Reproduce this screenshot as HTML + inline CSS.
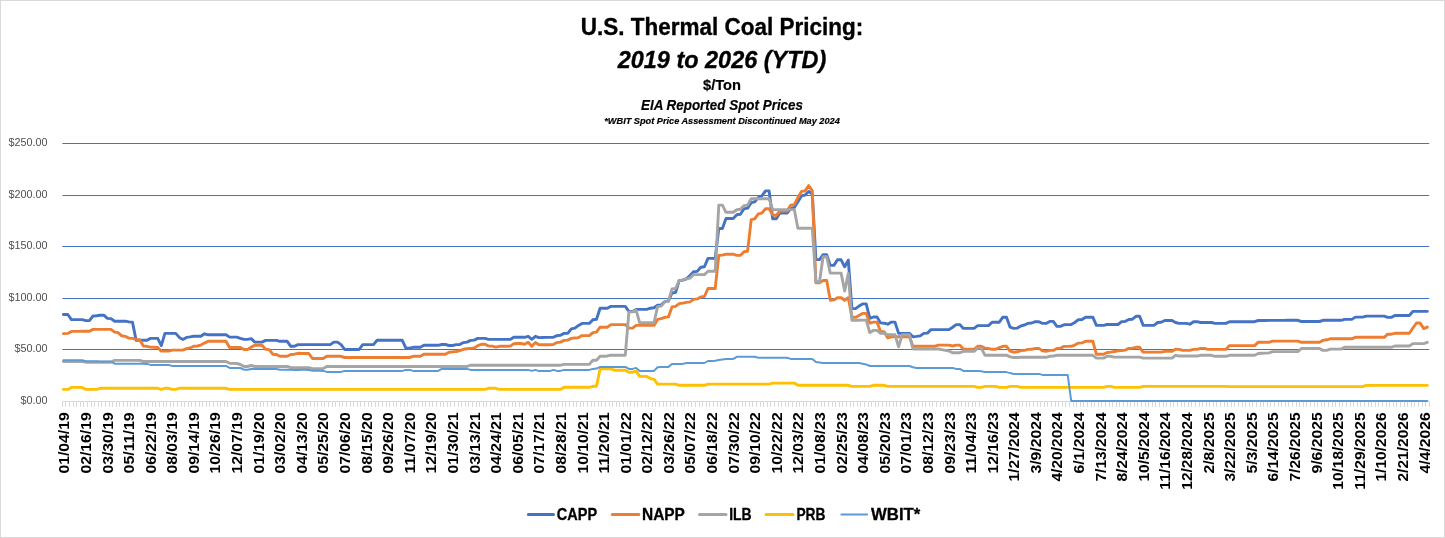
<!DOCTYPE html>
<html lang="en"><head><meta charset="utf-8"><title>U.S. Thermal Coal Pricing</title>
<style>html,body{margin:0;padding:0;background:#fff}svg{display:block}text{font-family:"Liberation Sans",sans-serif}.b{font-weight:700}.i{font-style:italic}</style></head><body>
<svg width="1445" height="538" viewBox="0 0 1445 538">
<rect x="0" y="0" width="1445" height="538" fill="#fff"/>
<rect x="0.5" y="0.5" width="1444" height="537" fill="none" stroke="#d9d9d9" stroke-width="1"/>
<text x="722" y="35.3" font-size="23.8" class="b" text-anchor="middle" textLength="282.5" lengthAdjust="spacingAndGlyphs" fill="#000" stroke="#000" stroke-width="0.35">U.S. Thermal Coal Pricing:</text>
<text x="722" y="68.1" font-size="23.8" class="b i" text-anchor="middle" textLength="208.5" lengthAdjust="spacingAndGlyphs" fill="#000" stroke="#000" stroke-width="0.35">2019 to 2026 (YTD)</text>
<text x="722" y="89.6" font-size="14.7" class="b" text-anchor="middle" textLength="38" lengthAdjust="spacingAndGlyphs" fill="#000" stroke="#000" stroke-width="0.2">$/Ton</text>
<text x="722" y="110.4" font-size="14.6" class="b i" text-anchor="middle" textLength="162" lengthAdjust="spacingAndGlyphs" fill="#000" stroke="#000" stroke-width="0.2">EIA Reported Spot Prices</text>
<text x="722" y="124.4" font-size="9.6" class="b i" text-anchor="middle" textLength="235.5" lengthAdjust="spacingAndGlyphs" fill="#000" stroke="#000" stroke-width="0.2">*WBIT Spot Price Assessment Discontinued May 2024</text>
<g stroke="#4472c4" stroke-width="1">
<line x1="62.4" y1="143.5" x2="1429.2" y2="143.5"/>
<line x1="62.4" y1="195.5" x2="1429.2" y2="195.5"/>
<line x1="62.4" y1="246.5" x2="1429.2" y2="246.5"/>
<line x1="62.4" y1="298.5" x2="1429.2" y2="298.5"/>
<line x1="62.4" y1="349.5" x2="1429.2" y2="349.5"/>
</g>
<g stroke="#d9d9d9" stroke-width="1">
<line x1="62.4" y1="401.5" x2="1429.2" y2="401.5"/>
<path d="M62.5 401.5v5.5M65.5 401.5v5.5M69.5 401.5v5.5M73.5 401.5v5.5M76.5 401.5v5.5M80.5 401.5v5.5M83.5 401.5v5.5M87.5 401.5v5.5M91.5 401.5v5.5M94.5 401.5v5.5M98.5 401.5v5.5M101.5 401.5v5.5M105.5 401.5v5.5M109.5 401.5v5.5M112.5 401.5v5.5M116.5 401.5v5.5M119.5 401.5v5.5M123.5 401.5v5.5M127.5 401.5v5.5M130.5 401.5v5.5M134.5 401.5v5.5M137.5 401.5v5.5M141.5 401.5v5.5M145.5 401.5v5.5M148.5 401.5v5.5M152.5 401.5v5.5M155.5 401.5v5.5M159.5 401.5v5.5M163.5 401.5v5.5M166.5 401.5v5.5M170.5 401.5v5.5M173.5 401.5v5.5M177.5 401.5v5.5M181.5 401.5v5.5M184.5 401.5v5.5M188.5 401.5v5.5M191.5 401.5v5.5M195.5 401.5v5.5M199.5 401.5v5.5M202.5 401.5v5.5M206.5 401.5v5.5M209.5 401.5v5.5M213.5 401.5v5.5M217.5 401.5v5.5M220.5 401.5v5.5M224.5 401.5v5.5M227.5 401.5v5.5M231.5 401.5v5.5M235.5 401.5v5.5M238.5 401.5v5.5M242.5 401.5v5.5M245.5 401.5v5.5M249.5 401.5v5.5M253.5 401.5v5.5M256.5 401.5v5.5M260.5 401.5v5.5M263.5 401.5v5.5M267.5 401.5v5.5M271.5 401.5v5.5M274.5 401.5v5.5M278.5 401.5v5.5M281.5 401.5v5.5M285.5 401.5v5.5M289.5 401.5v5.5M292.5 401.5v5.5M296.5 401.5v5.5M299.5 401.5v5.5M303.5 401.5v5.5M306.5 401.5v5.5M310.5 401.5v5.5M314.5 401.5v5.5M317.5 401.5v5.5M321.5 401.5v5.5M324.5 401.5v5.5M328.5 401.5v5.5M332.5 401.5v5.5M335.5 401.5v5.5M339.5 401.5v5.5M342.5 401.5v5.5M346.5 401.5v5.5M350.5 401.5v5.5M353.5 401.5v5.5M357.5 401.5v5.5M360.5 401.5v5.5M364.5 401.5v5.5M368.5 401.5v5.5M371.5 401.5v5.5M375.5 401.5v5.5M378.5 401.5v5.5M382.5 401.5v5.5M386.5 401.5v5.5M389.5 401.5v5.5M393.5 401.5v5.5M396.5 401.5v5.5M400.5 401.5v5.5M404.5 401.5v5.5M407.5 401.5v5.5M411.5 401.5v5.5M414.5 401.5v5.5M418.5 401.5v5.5M422.5 401.5v5.5M425.5 401.5v5.5M429.5 401.5v5.5M432.5 401.5v5.5M436.5 401.5v5.5M440.5 401.5v5.5M443.5 401.5v5.5M447.5 401.5v5.5M450.5 401.5v5.5M454.5 401.5v5.5M458.5 401.5v5.5M461.5 401.5v5.5M465.5 401.5v5.5M468.5 401.5v5.5M472.5 401.5v5.5M476.5 401.5v5.5M479.5 401.5v5.5M483.5 401.5v5.5M486.5 401.5v5.5M490.5 401.5v5.5M494.5 401.5v5.5M497.5 401.5v5.5M501.5 401.5v5.5M504.5 401.5v5.5M508.5 401.5v5.5M512.5 401.5v5.5M515.5 401.5v5.5M519.5 401.5v5.5M522.5 401.5v5.5M526.5 401.5v5.5M529.5 401.5v5.5M533.5 401.5v5.5M537.5 401.5v5.5M540.5 401.5v5.5M544.5 401.5v5.5M547.5 401.5v5.5M551.5 401.5v5.5M555.5 401.5v5.5M558.5 401.5v5.5M562.5 401.5v5.5M565.5 401.5v5.5M569.5 401.5v5.5M573.5 401.5v5.5M576.5 401.5v5.5M580.5 401.5v5.5M583.5 401.5v5.5M587.5 401.5v5.5M591.5 401.5v5.5M594.5 401.5v5.5M598.5 401.5v5.5M601.5 401.5v5.5M605.5 401.5v5.5M609.5 401.5v5.5M612.5 401.5v5.5M616.5 401.5v5.5M619.5 401.5v5.5M623.5 401.5v5.5M627.5 401.5v5.5M630.5 401.5v5.5M634.5 401.5v5.5M637.5 401.5v5.5M641.5 401.5v5.5M645.5 401.5v5.5M648.5 401.5v5.5M652.5 401.5v5.5M655.5 401.5v5.5M659.5 401.5v5.5M663.5 401.5v5.5M666.5 401.5v5.5M670.5 401.5v5.5M673.5 401.5v5.5M677.5 401.5v5.5M681.5 401.5v5.5M684.5 401.5v5.5M688.5 401.5v5.5M691.5 401.5v5.5M695.5 401.5v5.5M699.5 401.5v5.5M702.5 401.5v5.5M706.5 401.5v5.5M709.5 401.5v5.5M713.5 401.5v5.5M717.5 401.5v5.5M720.5 401.5v5.5M724.5 401.5v5.5M727.5 401.5v5.5M731.5 401.5v5.5M735.5 401.5v5.5M738.5 401.5v5.5M742.5 401.5v5.5M745.5 401.5v5.5M749.5 401.5v5.5M752.5 401.5v5.5M756.5 401.5v5.5M760.5 401.5v5.5M763.5 401.5v5.5M767.5 401.5v5.5M770.5 401.5v5.5M774.5 401.5v5.5M778.5 401.5v5.5M781.5 401.5v5.5M785.5 401.5v5.5M788.5 401.5v5.5M792.5 401.5v5.5M796.5 401.5v5.5M799.5 401.5v5.5M803.5 401.5v5.5M806.5 401.5v5.5M810.5 401.5v5.5M814.5 401.5v5.5M817.5 401.5v5.5M821.5 401.5v5.5M824.5 401.5v5.5M828.5 401.5v5.5M832.5 401.5v5.5M835.5 401.5v5.5M839.5 401.5v5.5M842.5 401.5v5.5M846.5 401.5v5.5M850.5 401.5v5.5M853.5 401.5v5.5M857.5 401.5v5.5M860.5 401.5v5.5M864.5 401.5v5.5M868.5 401.5v5.5M871.5 401.5v5.5M875.5 401.5v5.5M878.5 401.5v5.5M882.5 401.5v5.5M886.5 401.5v5.5M889.5 401.5v5.5M893.5 401.5v5.5M896.5 401.5v5.5M900.5 401.5v5.5M904.5 401.5v5.5M907.5 401.5v5.5M911.5 401.5v5.5M914.5 401.5v5.5M918.5 401.5v5.5M922.5 401.5v5.5M925.5 401.5v5.5M929.5 401.5v5.5M932.5 401.5v5.5M936.5 401.5v5.5M940.5 401.5v5.5M943.5 401.5v5.5M947.5 401.5v5.5M950.5 401.5v5.5M954.5 401.5v5.5M958.5 401.5v5.5M961.5 401.5v5.5M965.5 401.5v5.5M968.5 401.5v5.5M972.5 401.5v5.5M975.5 401.5v5.5M979.5 401.5v5.5M983.5 401.5v5.5M986.5 401.5v5.5M990.5 401.5v5.5M993.5 401.5v5.5M997.5 401.5v5.5M1001.5 401.5v5.5M1004.5 401.5v5.5M1008.5 401.5v5.5M1011.5 401.5v5.5M1015.5 401.5v5.5M1019.5 401.5v5.5M1022.5 401.5v5.5M1026.5 401.5v5.5M1029.5 401.5v5.5M1033.5 401.5v5.5M1037.5 401.5v5.5M1040.5 401.5v5.5M1044.5 401.5v5.5M1047.5 401.5v5.5M1051.5 401.5v5.5M1055.5 401.5v5.5M1058.5 401.5v5.5M1062.5 401.5v5.5M1065.5 401.5v5.5M1069.5 401.5v5.5M1073.5 401.5v5.5M1076.5 401.5v5.5M1080.5 401.5v5.5M1083.5 401.5v5.5M1087.5 401.5v5.5M1091.5 401.5v5.5M1094.5 401.5v5.5M1098.5 401.5v5.5M1101.5 401.5v5.5M1105.5 401.5v5.5M1109.5 401.5v5.5M1112.5 401.5v5.5M1116.5 401.5v5.5M1119.5 401.5v5.5M1123.5 401.5v5.5M1127.5 401.5v5.5M1130.5 401.5v5.5M1134.5 401.5v5.5M1137.5 401.5v5.5M1141.5 401.5v5.5M1145.5 401.5v5.5M1148.5 401.5v5.5M1152.5 401.5v5.5M1155.5 401.5v5.5M1159.5 401.5v5.5M1163.5 401.5v5.5M1166.5 401.5v5.5M1170.5 401.5v5.5M1173.5 401.5v5.5M1177.5 401.5v5.5M1181.5 401.5v5.5M1184.5 401.5v5.5M1188.5 401.5v5.5M1191.5 401.5v5.5M1195.5 401.5v5.5M1199.5 401.5v5.5M1202.5 401.5v5.5M1206.5 401.5v5.5M1209.5 401.5v5.5M1213.5 401.5v5.5M1216.5 401.5v5.5M1220.5 401.5v5.5M1224.5 401.5v5.5M1227.5 401.5v5.5M1231.5 401.5v5.5M1234.5 401.5v5.5M1238.5 401.5v5.5M1242.5 401.5v5.5M1245.5 401.5v5.5M1249.5 401.5v5.5M1252.5 401.5v5.5M1256.5 401.5v5.5M1260.5 401.5v5.5M1263.5 401.5v5.5M1267.5 401.5v5.5M1270.5 401.5v5.5M1274.5 401.5v5.5M1278.5 401.5v5.5M1281.5 401.5v5.5M1285.5 401.5v5.5M1288.5 401.5v5.5M1292.5 401.5v5.5M1296.5 401.5v5.5M1299.5 401.5v5.5M1303.5 401.5v5.5M1306.5 401.5v5.5M1310.5 401.5v5.5M1314.5 401.5v5.5M1317.5 401.5v5.5M1321.5 401.5v5.5M1324.5 401.5v5.5M1328.5 401.5v5.5M1332.5 401.5v5.5M1335.5 401.5v5.5M1339.5 401.5v5.5M1342.5 401.5v5.5M1346.5 401.5v5.5M1350.5 401.5v5.5M1353.5 401.5v5.5M1357.5 401.5v5.5M1360.5 401.5v5.5M1364.5 401.5v5.5M1368.5 401.5v5.5M1371.5 401.5v5.5M1375.5 401.5v5.5M1378.5 401.5v5.5M1382.5 401.5v5.5M1386.5 401.5v5.5M1389.5 401.5v5.5M1393.5 401.5v5.5M1396.5 401.5v5.5M1400.5 401.5v5.5M1404.5 401.5v5.5M1407.5 401.5v5.5M1411.5 401.5v5.5M1414.5 401.5v5.5M1418.5 401.5v5.5M1422.5 401.5v5.5M1425.5 401.5v5.5M1429.5 401.5v5.5" fill="none"/>
</g>
<g font-size="11.3" fill="#505050" text-anchor="end">
<text x="47.6" y="146.2" textLength="39.0" lengthAdjust="spacingAndGlyphs">$250.00</text>
<text x="47.6" y="198.2" textLength="39.0" lengthAdjust="spacingAndGlyphs">$200.00</text>
<text x="47.6" y="249.2" textLength="39.0" lengthAdjust="spacingAndGlyphs">$150.00</text>
<text x="47.6" y="301.2" textLength="39.0" lengthAdjust="spacingAndGlyphs">$100.00</text>
<text x="47.6" y="352.2" textLength="33.0" lengthAdjust="spacingAndGlyphs">$50.00</text>
<text x="47.6" y="403.6" textLength="27.0" lengthAdjust="spacingAndGlyphs">$0.00</text>
</g>
<g font-size="15" class="b" fill="#000" text-anchor="end">
<text transform="translate(69.33 412.3) rotate(-90)" textLength="61.2" lengthAdjust="spacingAndGlyphs">01/04/19</text>
<text transform="translate(90.92 412.3) rotate(-90)" textLength="61.2" lengthAdjust="spacingAndGlyphs">02/16/19</text>
<text transform="translate(112.52 412.3) rotate(-90)" textLength="61.2" lengthAdjust="spacingAndGlyphs">03/30/19</text>
<text transform="translate(134.11 412.3) rotate(-90)" textLength="61.2" lengthAdjust="spacingAndGlyphs">05/11/19</text>
<text transform="translate(155.69 412.3) rotate(-90)" textLength="61.2" lengthAdjust="spacingAndGlyphs">06/22/19</text>
<text transform="translate(177.29 412.3) rotate(-90)" textLength="61.2" lengthAdjust="spacingAndGlyphs">08/03/19</text>
<text transform="translate(198.88 412.3) rotate(-90)" textLength="61.2" lengthAdjust="spacingAndGlyphs">09/14/19</text>
<text transform="translate(220.46 412.3) rotate(-90)" textLength="61.2" lengthAdjust="spacingAndGlyphs">10/26/19</text>
<text transform="translate(242.06 412.3) rotate(-90)" textLength="61.2" lengthAdjust="spacingAndGlyphs">12/07/19</text>
<text transform="translate(263.64 412.3) rotate(-90)" textLength="61.2" lengthAdjust="spacingAndGlyphs">01/19/20</text>
<text transform="translate(285.24 412.3) rotate(-90)" textLength="61.2" lengthAdjust="spacingAndGlyphs">03/02/20</text>
<text transform="translate(306.83 412.3) rotate(-90)" textLength="61.2" lengthAdjust="spacingAndGlyphs">04/13/20</text>
<text transform="translate(328.41 412.3) rotate(-90)" textLength="61.2" lengthAdjust="spacingAndGlyphs">05/25/20</text>
<text transform="translate(350.00 412.3) rotate(-90)" textLength="61.2" lengthAdjust="spacingAndGlyphs">07/06/20</text>
<text transform="translate(371.60 412.3) rotate(-90)" textLength="61.2" lengthAdjust="spacingAndGlyphs">08/15/20</text>
<text transform="translate(393.19 412.3) rotate(-90)" textLength="61.2" lengthAdjust="spacingAndGlyphs">09/26/20</text>
<text transform="translate(414.77 412.3) rotate(-90)" textLength="61.2" lengthAdjust="spacingAndGlyphs">11/07/20</text>
<text transform="translate(436.37 412.3) rotate(-90)" textLength="61.2" lengthAdjust="spacingAndGlyphs">12/19/20</text>
<text transform="translate(457.96 412.3) rotate(-90)" textLength="61.2" lengthAdjust="spacingAndGlyphs">01/30/21</text>
<text transform="translate(479.54 412.3) rotate(-90)" textLength="61.2" lengthAdjust="spacingAndGlyphs">03/13/21</text>
<text transform="translate(501.13 412.3) rotate(-90)" textLength="61.2" lengthAdjust="spacingAndGlyphs">04/24/21</text>
<text transform="translate(522.73 412.3) rotate(-90)" textLength="61.2" lengthAdjust="spacingAndGlyphs">06/05/21</text>
<text transform="translate(544.32 412.3) rotate(-90)" textLength="61.2" lengthAdjust="spacingAndGlyphs">07/17/21</text>
<text transform="translate(565.90 412.3) rotate(-90)" textLength="61.2" lengthAdjust="spacingAndGlyphs">08/28/21</text>
<text transform="translate(587.50 412.3) rotate(-90)" textLength="61.2" lengthAdjust="spacingAndGlyphs">10/10/21</text>
<text transform="translate(609.09 412.3) rotate(-90)" textLength="61.2" lengthAdjust="spacingAndGlyphs">11/20/21</text>
<text transform="translate(630.68 412.3) rotate(-90)" textLength="61.2" lengthAdjust="spacingAndGlyphs">01/01/22</text>
<text transform="translate(652.26 412.3) rotate(-90)" textLength="61.2" lengthAdjust="spacingAndGlyphs">02/12/22</text>
<text transform="translate(673.86 412.3) rotate(-90)" textLength="61.2" lengthAdjust="spacingAndGlyphs">03/26/22</text>
<text transform="translate(695.45 412.3) rotate(-90)" textLength="61.2" lengthAdjust="spacingAndGlyphs">05/07/22</text>
<text transform="translate(717.04 412.3) rotate(-90)" textLength="61.2" lengthAdjust="spacingAndGlyphs">06/18/22</text>
<text transform="translate(738.62 412.3) rotate(-90)" textLength="61.2" lengthAdjust="spacingAndGlyphs">07/30/22</text>
<text transform="translate(760.22 412.3) rotate(-90)" textLength="61.2" lengthAdjust="spacingAndGlyphs">09/10/22</text>
<text transform="translate(781.81 412.3) rotate(-90)" textLength="61.2" lengthAdjust="spacingAndGlyphs">10/22/22</text>
<text transform="translate(803.39 412.3) rotate(-90)" textLength="61.2" lengthAdjust="spacingAndGlyphs">12/03/22</text>
<text transform="translate(824.99 412.3) rotate(-90)" textLength="61.2" lengthAdjust="spacingAndGlyphs">01/08/23</text>
<text transform="translate(846.58 412.3) rotate(-90)" textLength="61.2" lengthAdjust="spacingAndGlyphs">02/25/23</text>
<text transform="translate(868.17 412.3) rotate(-90)" textLength="61.2" lengthAdjust="spacingAndGlyphs">04/08/23</text>
<text transform="translate(889.75 412.3) rotate(-90)" textLength="61.2" lengthAdjust="spacingAndGlyphs">05/20/23</text>
<text transform="translate(911.35 412.3) rotate(-90)" textLength="61.2" lengthAdjust="spacingAndGlyphs">07/01/23</text>
<text transform="translate(932.94 412.3) rotate(-90)" textLength="61.2" lengthAdjust="spacingAndGlyphs">08/12/23</text>
<text transform="translate(954.52 412.3) rotate(-90)" textLength="61.2" lengthAdjust="spacingAndGlyphs">09/23/23</text>
<text transform="translate(976.12 412.3) rotate(-90)" textLength="61.2" lengthAdjust="spacingAndGlyphs">11/04/23</text>
<text transform="translate(997.71 412.3) rotate(-90)" textLength="61.2" lengthAdjust="spacingAndGlyphs">12/16/23</text>
<text transform="translate(1019.30 412.3) rotate(-90)" textLength="69.3" lengthAdjust="spacingAndGlyphs">1/27/2024</text>
<text transform="translate(1040.88 412.3) rotate(-90)" textLength="61.2" lengthAdjust="spacingAndGlyphs">3/9/2024</text>
<text transform="translate(1062.47 412.3) rotate(-90)" textLength="69.3" lengthAdjust="spacingAndGlyphs">4/20/2024</text>
<text transform="translate(1084.06 412.3) rotate(-90)" textLength="61.2" lengthAdjust="spacingAndGlyphs">6/1/2024</text>
<text transform="translate(1105.65 412.3) rotate(-90)" textLength="69.3" lengthAdjust="spacingAndGlyphs">7/13/2024</text>
<text transform="translate(1127.24 412.3) rotate(-90)" textLength="69.3" lengthAdjust="spacingAndGlyphs">8/24/2024</text>
<text transform="translate(1148.83 412.3) rotate(-90)" textLength="69.3" lengthAdjust="spacingAndGlyphs">10/5/2024</text>
<text transform="translate(1170.42 412.3) rotate(-90)" textLength="77.4" lengthAdjust="spacingAndGlyphs">11/16/2024</text>
<text transform="translate(1192.01 412.3) rotate(-90)" textLength="77.4" lengthAdjust="spacingAndGlyphs">12/28/2024</text>
<text transform="translate(1213.60 412.3) rotate(-90)" textLength="61.2" lengthAdjust="spacingAndGlyphs">2/8/2025</text>
<text transform="translate(1235.19 412.3) rotate(-90)" textLength="69.3" lengthAdjust="spacingAndGlyphs">3/22/2025</text>
<text transform="translate(1256.78 412.3) rotate(-90)" textLength="61.2" lengthAdjust="spacingAndGlyphs">5/3/2025</text>
<text transform="translate(1278.37 412.3) rotate(-90)" textLength="69.3" lengthAdjust="spacingAndGlyphs">6/14/2025</text>
<text transform="translate(1299.96 412.3) rotate(-90)" textLength="69.3" lengthAdjust="spacingAndGlyphs">7/26/2025</text>
<text transform="translate(1321.55 412.3) rotate(-90)" textLength="61.2" lengthAdjust="spacingAndGlyphs">9/6/2025</text>
<text transform="translate(1343.14 412.3) rotate(-90)" textLength="77.4" lengthAdjust="spacingAndGlyphs">10/18/2025</text>
<text transform="translate(1364.73 412.3) rotate(-90)" textLength="77.4" lengthAdjust="spacingAndGlyphs">11/29/2025</text>
<text transform="translate(1386.32 412.3) rotate(-90)" textLength="69.3" lengthAdjust="spacingAndGlyphs">1/10/2026</text>
<text transform="translate(1407.91 412.3) rotate(-90)" textLength="69.3" lengthAdjust="spacingAndGlyphs">2/21/2026</text>
<text transform="translate(1429.50 412.3) rotate(-90)" textLength="61.2" lengthAdjust="spacingAndGlyphs">4/4/2026</text>
</g>
<polyline points="63.4,314.5 67.8,314.5 71.4,319.6 75.0,319.6 78.6,319.6 82.2,319.6 85.8,320.6 89.4,320.6 93.0,316.0 96.6,315.7 100.2,315.2 103.8,315.2 107.4,318.4 111.0,318.6 114.6,321.2 118.1,321.2 121.7,321.2 125.3,321.2 128.9,321.9 132.5,322.2 136.1,340.3 139.7,340.3 143.3,340.3 146.9,340.3 150.5,338.4 154.1,338.4 157.7,338.4 161.3,345.6 164.9,333.4 168.5,333.4 172.1,333.4 175.7,333.4 179.3,337.4 182.9,339.4 186.5,337.4 190.1,336.9 193.7,336.3 197.3,336.3 200.9,336.3 204.5,333.8 208.1,334.8 211.7,334.8 215.3,334.8 218.9,334.8 222.5,334.8 226.0,334.8 229.6,337.1 233.2,337.1 236.8,337.1 240.4,338.3 244.0,339.4 247.6,339.4 251.2,338.6 254.8,342.1 258.4,342.1 262.0,342.1 265.6,340.4 269.2,340.4 272.8,340.4 276.4,340.4 280.0,341.3 283.6,341.3 287.2,341.3 290.8,346.3 294.4,346.3 298.0,344.6 301.6,344.6 305.2,344.6 308.8,344.6 312.4,344.6 316.0,344.6 319.6,344.6 323.2,344.6 326.8,344.6 330.3,344.6 333.9,342.1 337.5,342.1 341.1,344.6 344.7,349.5 348.3,349.5 351.9,349.5 355.5,349.5 359.1,349.5 362.7,344.6 366.3,344.6 369.9,344.6 373.5,344.6 377.1,340.3 380.7,340.3 384.3,340.3 387.9,340.3 391.5,340.3 395.1,340.3 398.7,340.3 402.3,340.3 405.9,348.1 409.5,348.1 413.1,347.3 416.7,347.3 420.3,347.3 423.9,345.3 427.5,345.3 431.1,345.3 434.6,345.3 438.2,345.3 441.8,344.5 445.4,344.5 449.0,345.5 452.6,345.5 456.2,344.6 459.8,344.6 463.4,342.6 467.0,342.1 470.6,340.4 474.2,340.1 477.8,338.4 481.4,338.4 485.0,338.4 488.6,339.4 492.2,339.4 495.8,339.4 499.4,339.4 503.0,339.4 506.6,339.4 510.2,339.4 513.8,337.3 517.4,337.3 521.0,337.3 524.6,337.3 528.2,336.3 531.8,339.3 535.4,336.3 539.0,337.6 542.5,337.5 546.1,337.4 549.7,337.4 553.3,337.3 556.9,335.6 560.5,335.3 564.1,333.4 567.7,333.4 571.3,328.8 574.9,328.1 578.5,325.4 582.1,323.4 585.7,323.4 589.3,323.4 592.9,319.7 596.5,319.2 600.1,308.3 603.7,308.3 607.3,308.2 610.9,306.4 614.5,306.4 618.1,306.4 621.7,306.4 625.3,306.4 628.9,311.4 632.5,311.4 636.1,309.4 639.7,309.4 643.3,309.4 646.8,309.4 650.4,308.2 654.0,307.7 657.6,305.2 661.2,304.9 664.8,301.6 668.4,301.1 672.0,293.0 675.6,292.4 679.2,280.5 682.8,280.1 686.4,278.8 690.0,275.6 693.6,271.8 697.2,271.4 700.8,267.3 704.4,266.8 708.0,258.4 711.6,258.4 715.2,258.4 718.8,228.5 722.4,228.5 726.0,218.5 729.6,218.5 733.2,218.5 736.8,214.8 740.4,214.3 744.0,208.8 747.6,208.1 751.2,202.6 754.7,201.8 758.3,197.6 761.9,195.9 765.5,190.9 769.1,190.9 772.7,218.8 776.3,218.8 779.9,213.1 783.5,213.1 787.1,213.1 790.7,208.5 794.3,207.6 797.9,201.8 801.5,195.9 805.1,195.1 808.7,191.4 812.3,194.2 815.9,259.6 819.5,259.6 823.1,254.7 826.7,254.7 830.3,265.4 833.9,265.4 837.5,259.8 841.1,259.8 844.7,266.8 848.3,260.1 851.9,308.6 855.5,308.6 859.0,306.1 862.6,303.9 866.2,303.9 869.8,318.4 873.4,317.0 877.0,317.0 880.6,322.9 884.2,323.2 887.8,324.2 891.4,322.1 895.0,322.1 898.6,333.4 902.2,333.4 905.8,333.4 909.4,333.4 913.0,336.8 916.6,336.4 920.2,335.9 923.8,333.4 927.4,333.1 931.0,329.6 934.6,329.6 938.2,329.6 941.8,329.6 945.4,329.6 949.0,329.6 952.6,327.2 956.2,324.6 959.8,324.6 963.4,328.4 966.9,328.4 970.5,328.4 974.1,328.4 977.7,325.6 981.3,325.6 984.9,325.6 988.5,325.6 992.1,322.2 995.7,322.2 999.3,322.2 1002.9,317.2 1006.5,317.2 1010.1,327.2 1013.7,328.4 1017.3,328.1 1020.9,325.9 1024.5,325.0 1028.1,323.4 1031.7,323.0 1035.3,321.7 1038.9,321.7 1042.5,323.4 1046.1,323.4 1049.7,321.4 1053.3,321.4 1056.9,326.4 1060.5,326.4 1064.1,324.7 1067.7,324.6 1071.2,324.5 1074.8,322.5 1078.4,319.7 1082.0,319.5 1085.6,317.2 1089.2,317.2 1092.8,317.2 1096.4,325.4 1100.0,325.4 1103.6,325.4 1107.2,324.5 1110.8,324.5 1114.4,324.5 1118.0,324.5 1121.6,321.7 1125.2,321.4 1128.8,319.5 1132.4,319.2 1136.0,316.3 1139.6,316.3 1143.2,325.4 1146.8,325.4 1150.4,325.4 1154.0,325.4 1157.6,322.5 1161.2,322.2 1164.8,320.5 1168.4,320.5 1172.0,320.5 1175.5,322.5 1179.1,323.4 1182.7,323.4 1186.3,323.4 1189.9,324.2 1193.5,321.7 1197.1,321.7 1200.7,322.5 1204.3,322.5 1207.9,322.5 1211.5,322.5 1215.1,323.4 1218.7,323.4 1222.3,323.4 1225.9,323.4 1229.5,321.7 1233.1,321.7 1236.7,321.7 1240.3,321.7 1243.9,321.7 1247.5,321.7 1251.1,321.7 1254.7,321.7 1258.3,320.5 1261.9,320.5 1265.5,320.5 1269.1,320.4 1272.7,320.4 1276.3,320.4 1279.9,320.4 1283.4,320.4 1287.0,320.3 1290.6,320.3 1294.2,320.3 1297.8,320.3 1301.4,321.5 1305.0,321.5 1308.6,321.5 1312.2,321.5 1315.8,321.5 1319.4,321.5 1323.0,320.3 1326.6,320.3 1330.2,320.3 1333.8,320.3 1337.4,320.3 1341.0,320.3 1344.6,319.4 1348.2,319.4 1351.8,319.4 1355.4,317.1 1359.0,317.1 1362.6,317.1 1366.2,316.1 1369.8,316.1 1373.4,316.1 1377.0,316.1 1380.6,316.1 1384.2,316.1 1387.7,317.4 1391.3,317.4 1394.9,315.5 1398.5,315.5 1402.1,315.5 1405.7,315.5 1409.3,315.5 1412.9,311.4 1416.5,311.4 1420.1,311.4 1423.7,311.4 1427.3,311.4" fill="none" stroke="#4472c4" stroke-width="2.9" stroke-linejoin="round" stroke-linecap="round"/>
<polyline points="63.4,333.6 67.8,333.4 71.4,331.4 75.0,331.4 78.6,331.4 82.2,331.3 85.8,331.3 89.4,331.2 93.0,329.4 96.6,329.4 100.2,329.4 103.8,329.4 107.4,329.4 111.0,329.4 114.6,332.1 118.1,332.6 121.7,335.8 125.3,336.4 128.9,338.1 132.5,338.4 136.1,339.4 139.7,339.8 143.3,346.0 146.9,346.3 150.5,347.1 154.1,347.3 157.7,347.5 161.3,351.1 164.9,351.1 168.5,351.1 172.1,350.1 175.7,350.1 179.3,350.1 182.9,350.1 186.5,348.6 190.1,348.0 193.7,346.3 197.3,346.0 200.9,345.1 204.5,343.1 208.1,341.3 211.7,341.3 215.3,341.3 218.9,341.3 222.5,341.3 226.0,341.3 229.6,347.5 233.2,347.5 236.8,347.5 240.4,347.5 244.0,349.5 247.6,349.5 251.2,347.1 254.8,345.3 258.4,345.3 262.0,345.3 265.6,349.3 269.2,349.6 272.8,354.2 276.4,354.5 280.0,356.3 283.6,356.3 287.2,356.3 290.8,354.5 294.4,354.2 298.0,353.3 301.6,353.5 305.2,353.5 308.8,353.5 312.4,358.5 316.0,358.5 319.6,358.5 323.2,358.5 326.8,356.3 330.3,356.3 333.9,356.3 337.5,356.3 341.1,356.3 344.7,357.5 348.3,357.5 351.9,357.5 355.5,357.5 359.1,357.5 362.7,357.5 366.3,357.5 369.9,357.5 373.5,357.5 377.1,357.5 380.7,357.5 384.3,357.5 387.9,357.5 391.5,357.5 395.1,357.5 398.7,357.5 402.3,357.5 405.9,357.5 409.5,357.5 413.1,356.3 416.7,356.3 420.3,356.3 423.9,354.3 427.5,354.3 431.1,354.3 434.6,354.3 438.2,354.3 441.8,354.3 445.4,354.3 449.0,352.3 452.6,351.9 456.2,351.5 459.8,350.6 463.4,349.3 467.0,348.8 470.6,348.4 474.2,348.0 477.8,345.6 481.4,344.3 485.0,344.3 488.6,346.0 492.2,346.1 495.8,347.1 499.4,346.3 503.0,346.2 506.6,346.2 510.2,346.1 513.8,343.8 517.4,343.5 521.0,343.5 524.6,344.3 528.2,342.3 531.8,346.3 535.4,342.6 539.0,344.8 542.5,344.8 546.1,344.7 549.7,344.7 553.3,344.6 556.9,342.6 560.5,342.1 564.1,340.4 567.7,340.1 571.3,338.4 574.9,338.0 578.5,337.6 582.1,335.6 585.7,335.6 589.3,335.6 592.9,332.6 596.5,332.1 600.1,327.2 603.7,327.2 607.3,327.2 610.9,324.6 614.5,324.6 618.1,324.6 621.7,324.6 625.3,324.6 628.9,328.1 632.5,328.1 636.1,325.4 639.7,325.4 643.3,325.4 646.8,325.4 650.4,325.4 654.0,325.4 657.6,319.4 661.2,318.6 664.8,317.3 668.4,316.9 672.0,306.9 675.6,306.4 679.2,303.6 682.8,303.1 686.4,302.4 690.0,301.9 693.6,299.4 697.2,298.9 700.8,296.9 704.4,296.5 708.0,288.5 711.6,288.5 715.2,288.5 718.8,255.4 722.4,255.1 726.0,254.2 729.6,254.2 733.2,254.2 736.8,255.4 740.4,255.4 744.0,251.7 747.6,251.2 751.2,219.7 754.7,218.8 758.3,213.8 761.9,213.1 765.5,208.8 769.1,208.8 772.7,214.8 776.3,215.5 779.9,211.0 783.5,211.0 787.1,211.0 790.7,205.1 794.3,204.6 797.9,197.6 801.5,191.4 805.1,190.9 808.7,185.6 812.3,190.9 815.9,282.7 819.5,282.7 823.1,280.5 826.7,280.5 830.3,300.2 833.9,299.9 837.5,297.7 841.1,297.7 844.7,300.2 848.3,297.7 851.9,317.0 855.5,317.4 859.0,315.4 862.6,313.4 866.2,313.4 869.8,323.1 873.4,322.1 877.0,322.1 880.6,331.8 884.2,331.8 887.8,337.9 891.4,336.8 895.0,336.8 898.6,336.8 902.2,336.8 905.8,336.8 909.4,336.8 913.0,346.3 916.6,346.3 920.2,346.3 923.8,346.3 927.4,346.3 931.0,346.3 934.6,346.3 938.2,345.1 941.8,345.1 945.4,345.1 949.0,345.1 952.6,346.0 956.2,345.1 959.8,345.1 963.4,349.3 966.9,349.3 970.5,349.3 974.1,349.3 977.7,346.3 981.3,346.3 984.9,348.1 988.5,348.5 992.1,349.3 995.7,349.3 999.3,347.6 1002.9,346.3 1006.5,346.3 1010.1,351.0 1013.7,352.2 1017.3,351.8 1020.9,350.6 1024.5,350.4 1028.1,349.4 1031.7,349.3 1035.3,348.4 1038.9,348.4 1042.5,350.9 1046.1,351.3 1049.7,350.4 1053.3,350.4 1056.9,348.4 1060.5,348.1 1064.1,346.4 1067.7,346.4 1071.2,346.3 1074.8,345.1 1078.4,343.1 1082.0,342.9 1085.6,341.2 1089.2,341.2 1092.8,341.2 1096.4,354.3 1100.0,354.3 1103.6,354.3 1107.2,352.5 1110.8,352.1 1114.4,351.5 1118.0,350.9 1121.6,350.5 1125.2,350.1 1128.8,348.4 1132.4,348.1 1136.0,347.3 1139.6,347.3 1143.2,352.1 1146.8,352.1 1150.4,352.1 1154.0,352.1 1157.6,352.1 1161.2,352.1 1164.8,351.3 1168.4,351.3 1172.0,351.3 1175.5,349.3 1179.1,349.4 1182.7,350.4 1186.3,350.4 1189.9,350.4 1193.5,349.4 1197.1,349.3 1200.7,348.4 1204.3,348.4 1207.9,349.4 1211.5,349.4 1215.1,349.4 1218.7,349.4 1222.3,349.4 1225.9,349.4 1229.5,345.6 1233.1,345.6 1236.7,345.6 1240.3,345.6 1243.9,345.6 1247.5,345.6 1251.1,345.6 1254.7,345.6 1258.3,342.1 1261.9,342.2 1265.5,342.2 1269.1,342.3 1272.7,341.1 1276.3,341.1 1279.9,341.1 1283.4,341.1 1287.0,341.1 1290.6,341.1 1294.2,341.1 1297.8,341.1 1301.4,342.3 1305.0,342.3 1308.6,342.3 1312.2,342.3 1315.8,342.3 1319.4,342.3 1323.0,340.4 1326.6,339.8 1330.2,338.8 1333.8,338.8 1337.4,338.8 1341.0,338.8 1344.6,338.8 1348.2,338.8 1351.8,338.8 1355.4,337.3 1359.0,337.3 1362.6,337.3 1366.2,337.3 1369.8,337.3 1373.4,337.3 1377.0,337.3 1380.6,337.3 1384.2,337.3 1387.7,334.2 1391.3,334.2 1394.9,333.3 1398.5,333.3 1402.1,333.3 1405.7,333.3 1409.3,333.3 1412.9,328.0 1416.5,323.0 1420.1,323.0 1423.7,328.6 1427.3,327.1" fill="none" stroke="#ed7d31" stroke-width="2.9" stroke-linejoin="round" stroke-linecap="round"/>
<polyline points="63.4,361.5 67.8,361.5 71.4,361.5 75.0,361.5 78.6,361.5 82.2,361.5 85.8,362.2 89.4,362.2 93.0,362.2 96.6,362.2 100.2,362.2 103.8,362.2 107.4,362.2 111.0,362.2 114.6,360.4 118.1,360.4 121.7,360.4 125.3,360.4 128.9,360.4 132.5,360.4 136.1,360.4 139.7,360.4 143.3,361.5 146.9,361.5 150.5,361.5 154.1,361.5 157.7,361.5 161.3,361.5 164.9,361.5 168.5,361.5 172.1,361.5 175.7,361.5 179.3,361.5 182.9,361.5 186.5,361.5 190.1,361.5 193.7,361.5 197.3,361.5 200.9,361.5 204.5,361.5 208.1,361.5 211.7,361.5 215.3,361.5 218.9,361.5 222.5,361.5 226.0,361.5 229.6,363.2 233.2,363.4 236.8,363.5 240.4,364.5 244.0,366.5 247.6,366.5 251.2,365.5 254.8,366.5 258.4,366.5 262.0,366.5 265.6,366.5 269.2,366.5 272.8,366.5 276.4,366.5 280.0,366.5 283.6,366.5 287.2,366.5 290.8,367.7 294.4,367.7 298.0,367.7 301.6,367.7 305.2,367.7 308.8,367.7 312.4,368.6 316.0,368.6 319.6,368.6 323.2,368.6 326.8,366.5 330.3,366.5 333.9,366.5 337.5,366.5 341.1,366.5 344.7,366.5 348.3,366.5 351.9,366.5 355.5,366.5 359.1,366.5 362.7,366.5 366.3,366.5 369.9,366.5 373.5,366.5 377.1,366.5 380.7,366.5 384.3,366.5 387.9,366.5 391.5,366.5 395.1,366.5 398.7,366.5 402.3,366.5 405.9,366.5 409.5,366.5 413.1,366.5 416.7,366.5 420.3,366.5 423.9,366.5 427.5,366.5 431.1,366.5 434.6,366.5 438.2,366.5 441.8,366.5 445.4,366.5 449.0,366.5 452.6,366.5 456.2,366.5 459.8,366.5 463.4,366.5 467.0,366.5 470.6,365.2 474.2,365.2 477.8,365.2 481.4,365.2 485.0,365.2 488.6,365.2 492.2,365.2 495.8,365.2 499.4,365.2 503.0,365.2 506.6,365.2 510.2,365.2 513.8,365.2 517.4,365.2 521.0,365.2 524.6,365.2 528.2,365.2 531.8,365.2 535.4,365.2 539.0,365.2 542.5,365.2 546.1,365.2 549.7,365.2 553.3,365.2 556.9,365.2 560.5,365.2 564.1,364.4 567.7,364.4 571.3,364.4 574.9,364.4 578.5,364.4 582.1,364.4 585.7,364.4 589.3,364.4 592.9,360.2 596.5,360.2 600.1,356.3 603.7,356.2 607.3,356.0 610.9,355.2 614.5,355.2 618.1,355.2 621.7,355.2 625.3,355.2 628.9,311.9 632.5,311.9 636.1,310.2 639.7,322.8 643.3,322.8 646.8,322.8 650.4,322.8 654.0,322.8 657.6,306.6 661.2,306.1 664.8,301.9 668.4,301.4 672.0,288.9 675.6,288.5 679.2,280.5 682.8,279.8 686.4,278.8 690.0,278.1 693.6,274.6 697.2,274.6 700.8,274.6 704.4,274.6 708.0,271.3 711.6,271.3 715.2,271.3 718.8,205.1 722.4,205.1 726.0,212.3 729.6,212.3 733.2,212.3 736.8,209.8 740.4,209.3 744.0,205.6 747.6,205.1 751.2,198.8 754.7,198.8 758.3,198.8 761.9,198.8 765.5,198.8 769.1,198.8 772.7,209.6 776.3,209.6 779.9,209.6 783.5,209.6 787.1,209.6 790.7,209.6 794.3,209.6 797.9,228.2 801.5,228.2 805.1,228.2 808.7,228.2 812.3,228.2 815.9,281.8 819.5,281.8 823.1,256.7 826.7,256.7 830.3,273.1 833.9,273.1 837.5,273.1 841.1,273.1 844.7,291.0 848.3,273.5 851.9,320.3 855.5,320.2 859.0,320.2 862.6,320.1 866.2,320.1 869.8,332.6 873.4,330.4 877.0,330.4 880.6,333.4 884.2,333.4 887.8,334.8 891.4,334.8 895.0,334.8 898.6,346.8 902.2,334.8 905.8,334.8 909.4,334.8 913.0,349.0 916.6,349.0 920.2,349.0 923.8,349.0 927.4,349.0 931.0,349.0 934.6,349.0 938.2,349.0 941.8,349.6 945.4,350.3 949.0,351.0 952.6,352.7 956.2,352.7 959.8,352.7 963.4,351.3 966.9,351.3 970.5,351.3 974.1,351.3 977.7,348.1 981.3,348.1 984.9,355.2 988.5,355.2 992.1,355.2 995.7,355.2 999.3,355.2 1002.9,355.2 1006.5,355.2 1010.1,356.8 1013.7,357.5 1017.3,357.5 1020.9,357.3 1024.5,357.3 1028.1,357.3 1031.7,357.3 1035.3,357.3 1038.9,357.3 1042.5,357.3 1046.1,357.3 1049.7,356.3 1053.3,356.0 1056.9,355.3 1060.5,355.3 1064.1,355.3 1067.7,355.3 1071.2,355.3 1074.8,355.3 1078.4,355.3 1082.0,355.3 1085.6,355.3 1089.2,355.3 1092.8,355.3 1096.4,358.1 1100.0,358.1 1103.6,358.1 1107.2,356.3 1110.8,356.3 1114.4,357.1 1118.0,357.1 1121.6,357.1 1125.2,357.1 1128.8,357.1 1132.4,357.1 1136.0,357.1 1139.6,357.1 1143.2,358.1 1146.8,358.1 1150.4,358.1 1154.0,358.1 1157.6,358.1 1161.2,358.1 1164.8,358.1 1168.4,358.1 1172.0,358.1 1175.5,355.3 1179.1,356.0 1182.7,356.0 1186.3,356.0 1189.9,356.0 1193.5,356.0 1197.1,356.0 1200.7,355.3 1204.3,355.3 1207.9,355.3 1211.5,355.3 1215.1,356.3 1218.7,356.3 1222.3,356.3 1225.9,356.3 1229.5,355.3 1233.1,355.3 1236.7,355.3 1240.3,355.3 1243.9,355.3 1247.5,355.3 1251.1,355.3 1254.7,355.3 1258.3,353.5 1261.9,353.3 1265.5,353.1 1269.1,352.9 1272.7,351.6 1276.3,351.6 1279.9,351.6 1283.4,351.6 1287.0,351.6 1290.6,351.6 1294.2,351.6 1297.8,351.6 1301.4,348.5 1305.0,348.5 1308.6,348.5 1312.2,348.5 1315.8,348.5 1319.4,348.5 1323.0,350.4 1326.6,350.4 1330.2,349.1 1333.8,349.1 1337.4,349.1 1341.0,349.1 1344.6,347.3 1348.2,347.3 1351.8,347.3 1355.4,347.3 1359.0,347.3 1362.6,347.3 1366.2,347.3 1369.8,347.3 1373.4,347.3 1377.0,347.3 1380.6,347.3 1384.2,347.3 1387.7,347.3 1391.3,347.3 1394.9,346.0 1398.5,346.0 1402.1,346.0 1405.7,346.0 1409.3,346.0 1412.9,343.6 1416.5,343.6 1420.1,343.6 1423.7,343.6 1427.3,342.3" fill="none" stroke="#a5a5a5" stroke-width="2.9" stroke-linejoin="round" stroke-linecap="round"/>
<polyline points="63.4,389.4 67.8,389.4 71.4,387.4 75.0,387.4 78.6,387.4 82.2,387.4 85.8,389.4 89.4,389.4 93.0,389.4 96.6,389.4 100.2,388.3 103.8,388.3 107.4,388.3 111.0,388.3 114.6,388.3 118.1,388.3 121.7,388.3 125.3,388.3 128.9,388.3 132.5,388.3 136.1,388.3 139.7,388.3 143.3,388.3 146.9,388.3 150.5,388.3 154.1,388.3 157.7,388.3 161.3,389.4 164.9,388.3 168.5,388.3 172.1,389.4 175.7,389.4 179.3,388.3 182.9,388.3 186.5,388.3 190.1,388.3 193.7,388.3 197.3,388.3 200.9,388.3 204.5,388.3 208.1,388.3 211.7,388.3 215.3,388.3 218.9,388.3 222.5,388.3 226.0,388.3 229.6,389.4 233.2,389.4 236.8,389.4 240.4,389.4 244.0,389.4 247.6,389.4 251.2,389.4 254.8,389.4 258.4,389.4 262.0,389.4 265.6,389.4 269.2,389.4 272.8,389.4 276.4,389.4 280.0,389.4 283.6,389.4 287.2,389.4 290.8,389.4 294.4,389.4 298.0,389.4 301.6,389.4 305.2,389.4 308.8,389.4 312.4,389.4 316.0,389.4 319.6,389.4 323.2,389.4 326.8,389.4 330.3,389.4 333.9,389.4 337.5,389.4 341.1,389.4 344.7,389.4 348.3,389.4 351.9,389.4 355.5,389.4 359.1,389.4 362.7,389.4 366.3,389.4 369.9,389.4 373.5,389.4 377.1,389.4 380.7,389.4 384.3,389.4 387.9,389.4 391.5,389.4 395.1,389.4 398.7,389.4 402.3,389.4 405.9,389.4 409.5,389.4 413.1,389.4 416.7,389.4 420.3,389.4 423.9,389.4 427.5,389.4 431.1,389.4 434.6,389.4 438.2,389.4 441.8,389.4 445.4,389.4 449.0,389.4 452.6,389.4 456.2,389.4 459.8,389.4 463.4,389.4 467.0,389.4 470.6,389.4 474.2,389.4 477.8,389.4 481.4,389.4 485.0,389.4 488.6,388.3 492.2,388.3 495.8,388.3 499.4,389.4 503.0,389.4 506.6,389.4 510.2,389.4 513.8,389.4 517.4,389.4 521.0,389.4 524.6,389.4 528.2,389.4 531.8,389.4 535.4,389.4 539.0,389.4 542.5,389.4 546.1,389.4 549.7,389.4 553.3,389.4 556.9,389.4 560.5,389.4 564.1,387.3 567.7,387.3 571.3,387.3 574.9,387.3 578.5,387.3 582.1,387.3 585.7,387.3 589.3,387.3 592.9,386.3 596.5,386.3 600.1,368.9 603.7,368.9 607.3,368.9 610.9,368.9 614.5,370.2 618.1,370.2 621.7,370.2 625.3,370.2 628.9,372.2 632.5,372.2 636.1,371.2 639.7,376.4 643.3,376.4 646.8,376.4 650.4,378.6 654.0,379.4 657.6,384.1 661.2,384.1 664.8,384.1 668.4,384.1 672.0,384.1 675.6,384.1 679.2,385.3 682.8,385.3 686.4,385.3 690.0,385.3 693.6,385.3 697.2,385.3 700.8,385.3 704.4,385.3 708.0,384.1 711.6,384.1 715.2,384.1 718.8,384.1 722.4,384.1 726.0,384.1 729.6,384.1 733.2,384.1 736.8,384.1 740.4,384.1 744.0,384.1 747.6,384.1 751.2,384.1 754.7,384.1 758.3,384.1 761.9,384.1 765.5,384.1 769.1,384.1 772.7,383.1 776.3,383.1 779.9,383.1 783.5,383.1 787.1,383.1 790.7,383.1 794.3,383.1 797.9,385.3 801.5,385.3 805.1,385.3 808.7,385.3 812.3,385.3 815.9,385.3 819.5,385.3 823.1,385.3 826.7,385.3 830.3,385.3 833.9,385.3 837.5,385.3 841.1,385.3 844.7,385.3 848.3,385.3 851.9,386.4 855.5,386.4 859.0,386.4 862.6,386.4 866.2,386.4 869.8,386.4 873.4,385.3 877.0,385.3 880.6,385.3 884.2,385.3 887.8,386.4 891.4,386.4 895.0,386.4 898.6,386.4 902.2,386.4 905.8,386.4 909.4,386.4 913.0,386.4 916.6,386.4 920.2,386.4 923.8,386.4 927.4,386.4 931.0,386.4 934.6,386.4 938.2,386.4 941.8,386.4 945.4,386.4 949.0,386.4 952.6,386.4 956.2,386.4 959.8,386.4 963.4,386.4 966.9,386.4 970.5,386.4 974.1,386.4 977.7,387.4 981.3,387.4 984.9,386.4 988.5,386.4 992.1,386.4 995.7,386.4 999.3,387.4 1002.9,387.4 1006.5,387.4 1010.1,386.4 1013.7,386.4 1017.3,386.4 1020.9,387.4 1024.5,387.4 1028.1,387.4 1031.7,387.4 1035.3,387.4 1038.9,387.4 1042.5,387.4 1046.1,387.4 1049.7,387.4 1053.3,387.4 1056.9,387.4 1060.5,387.4 1064.1,387.4 1067.7,387.4 1071.2,387.4 1074.8,387.4 1078.4,387.4 1082.0,387.4 1085.6,387.4 1089.2,387.4 1092.8,387.4 1096.4,387.4 1100.0,387.4 1103.6,387.4 1107.2,386.4 1110.8,386.4 1114.4,387.4 1118.0,387.4 1121.6,387.4 1125.2,387.4 1128.8,387.4 1132.4,387.4 1136.0,387.4 1139.6,387.4 1143.2,386.4 1146.8,386.4 1150.4,386.4 1154.0,386.4 1157.6,386.4 1161.2,386.4 1164.8,386.4 1168.4,386.4 1172.0,386.4 1175.5,386.4 1179.1,386.4 1182.7,386.4 1186.3,386.4 1189.9,386.4 1193.5,386.4 1197.1,386.4 1200.7,386.4 1204.3,386.4 1207.9,386.4 1211.5,386.4 1215.1,386.4 1218.7,386.4 1222.3,386.4 1225.9,386.4 1229.5,386.6 1233.1,386.6 1236.7,386.6 1240.3,386.6 1243.9,386.6 1247.5,386.6 1251.1,386.6 1254.7,386.6 1258.3,386.6 1261.9,386.6 1265.5,386.6 1269.1,386.6 1272.7,386.6 1276.3,386.6 1279.9,386.6 1283.4,386.6 1287.0,386.6 1290.6,386.6 1294.2,386.6 1297.8,386.6 1301.4,386.6 1305.0,386.6 1308.6,386.6 1312.2,386.6 1315.8,386.6 1319.4,386.6 1323.0,386.6 1326.6,386.6 1330.2,386.6 1333.8,386.6 1337.4,386.6 1341.0,386.6 1344.6,386.6 1348.2,386.6 1351.8,386.6 1355.4,386.6 1359.0,386.6 1362.6,386.6 1366.2,385.4 1369.8,385.4 1373.4,385.4 1377.0,385.4 1380.6,385.4 1384.2,385.4 1387.7,385.4 1391.3,385.4 1394.9,385.4 1398.5,385.4 1402.1,385.4 1405.7,385.4 1409.3,385.4 1412.9,385.4 1416.5,385.4 1420.1,385.4 1423.7,385.4 1427.3,385.4" fill="none" stroke="#ffc000" stroke-width="2.9" stroke-linejoin="round" stroke-linecap="round"/>
<polyline points="63.4,360.2 67.8,360.2 71.4,360.2 75.0,360.2 78.6,360.2 82.2,360.2 85.8,361.2 89.4,361.2 93.0,361.3 96.6,361.3 100.2,361.4 103.8,361.4 107.4,361.5 111.0,361.5 114.6,363.7 118.1,363.7 121.7,363.7 125.3,363.8 128.9,363.8 132.5,363.8 136.1,363.8 139.7,363.8 143.3,363.8 146.9,363.9 150.5,364.9 154.1,364.9 157.7,364.9 161.3,365.0 164.9,365.0 168.5,365.0 172.1,365.9 175.7,365.9 179.3,365.9 182.9,365.9 186.5,365.9 190.1,365.9 193.7,365.9 197.3,365.9 200.9,365.9 204.5,365.9 208.1,365.9 211.7,365.9 215.3,365.9 218.9,365.9 222.5,365.9 226.0,365.9 229.6,367.9 233.2,367.9 236.8,368.0 240.4,368.0 244.0,369.7 247.6,369.7 251.2,368.9 254.8,368.9 258.4,368.9 262.0,368.9 265.6,368.9 269.2,368.9 272.8,368.9 276.4,368.9 280.0,369.7 283.6,369.8 287.2,369.8 290.8,369.8 294.4,369.9 298.0,369.9 301.6,369.7 305.2,369.8 308.8,369.9 312.4,370.7 316.0,370.8 319.6,370.8 323.2,370.9 326.8,371.9 330.3,371.9 333.9,371.9 337.5,371.9 341.1,371.9 344.7,370.9 348.3,370.9 351.9,370.9 355.5,370.9 359.1,370.9 362.7,370.9 366.3,370.9 369.9,370.9 373.5,370.9 377.1,370.9 380.7,370.9 384.3,370.9 387.9,370.9 391.5,370.9 395.1,370.9 398.7,370.9 402.3,370.9 405.9,369.9 409.5,369.9 413.1,370.9 416.7,370.9 420.3,370.9 423.9,370.9 427.5,370.9 431.1,370.9 434.6,370.9 438.2,370.9 441.8,368.9 445.4,368.9 449.0,368.9 452.6,368.9 456.2,368.9 459.8,368.9 463.4,368.9 467.0,368.9 470.6,369.9 474.2,369.9 477.8,369.9 481.4,369.9 485.0,369.9 488.6,369.9 492.2,369.9 495.8,369.9 499.4,369.9 503.0,369.9 506.6,369.9 510.2,369.9 513.8,369.9 517.4,369.9 521.0,369.9 524.6,369.9 528.2,369.9 531.8,370.9 535.4,369.9 539.0,371.1 542.5,371.1 546.1,371.1 549.7,371.1 553.3,369.9 556.9,370.9 560.5,370.9 564.1,369.9 567.7,369.9 571.3,369.9 574.9,369.9 578.5,369.9 582.1,369.9 585.7,369.9 589.3,369.9 592.9,368.9 596.5,368.6 600.1,366.9 603.7,366.9 607.3,366.9 610.9,366.9 614.5,366.9 618.1,366.9 621.7,366.9 625.3,366.9 628.9,368.9 632.5,368.9 636.1,367.9 639.7,370.9 643.3,370.9 646.8,370.9 650.4,370.9 654.0,370.9 657.6,367.2 661.2,366.9 664.8,366.9 668.4,366.9 672.0,364.0 675.6,364.0 679.2,363.9 682.8,363.9 686.4,363.0 690.0,363.0 693.6,363.0 697.2,363.0 700.8,363.0 704.4,363.0 708.0,361.0 711.6,360.9 715.2,360.7 718.8,359.9 722.4,359.4 726.0,358.9 729.6,358.9 733.2,358.9 736.8,356.8 740.4,356.8 744.0,356.8 747.6,356.8 751.2,356.8 754.7,356.8 758.3,357.8 761.9,357.8 765.5,357.8 769.1,357.8 772.7,357.8 776.3,357.8 779.9,357.8 783.5,357.8 787.1,357.8 790.7,358.9 794.3,358.9 797.9,358.9 801.5,358.9 805.1,358.9 808.7,358.9 812.3,358.9 815.9,361.9 819.5,362.4 823.1,363.0 826.7,363.0 830.3,363.0 833.9,363.0 837.5,363.0 841.1,363.0 844.7,363.0 848.3,363.0 851.9,363.0 855.5,363.0 859.0,363.0 862.6,363.7 866.2,364.4 869.8,366.0 873.4,366.0 877.0,366.0 880.6,366.0 884.2,366.0 887.8,366.0 891.4,366.0 895.0,366.0 898.6,366.0 902.2,366.0 905.8,366.0 909.4,366.0 913.0,367.2 916.6,368.0 920.2,368.0 923.8,368.0 927.4,368.0 931.0,368.0 934.6,368.0 938.2,368.0 941.8,368.0 945.4,368.0 949.0,368.0 952.6,368.0 956.2,368.9 959.8,368.9 963.4,370.9 966.9,370.9 970.5,371.0 974.1,371.1 977.7,371.1 981.3,371.2 984.9,372.1 988.5,372.1 992.1,372.1 995.7,372.1 999.3,372.1 1002.9,372.1 1006.5,372.1 1010.1,373.1 1013.7,373.9 1017.3,373.9 1020.9,373.9 1024.5,373.9 1028.1,373.9 1031.7,373.9 1035.3,373.9 1038.9,373.9 1042.5,374.9 1046.1,374.9 1049.7,374.9 1053.3,374.9 1056.9,374.9 1060.5,374.9 1064.1,374.9 1067.7,374.9 1071.2,400.9 1074.8,400.9 1078.4,400.9 1082.0,400.9 1085.6,400.9 1089.2,400.9 1092.8,400.9 1096.4,400.9 1100.0,400.9 1103.6,400.9 1107.2,400.9 1110.8,400.9 1114.4,400.9 1118.0,400.9 1121.6,400.9 1125.2,400.9 1128.8,400.9 1132.4,400.9 1136.0,400.9 1139.6,400.9 1143.2,400.9 1146.8,400.9 1150.4,400.9 1154.0,400.9 1157.6,400.9 1161.2,400.9 1164.8,400.9 1168.4,400.9 1172.0,400.9 1175.5,400.9 1179.1,400.9 1182.7,400.9 1186.3,400.9 1189.9,400.9 1193.5,400.9 1197.1,400.9 1200.7,400.9 1204.3,400.9 1207.9,400.9 1211.5,400.9 1215.1,400.9 1218.7,400.9 1222.3,400.9 1225.9,400.9 1229.5,400.9 1233.1,400.9 1236.7,400.9 1240.3,400.9 1243.9,400.9 1247.5,400.9 1251.1,400.9 1254.7,400.9 1258.3,400.9 1261.9,400.9 1265.5,400.9 1269.1,400.9 1272.7,400.9 1276.3,400.9 1279.9,400.9 1283.4,400.9 1287.0,400.9 1290.6,400.9 1294.2,400.9 1297.8,400.9 1301.4,400.9 1305.0,400.9 1308.6,400.9 1312.2,400.9 1315.8,400.9 1319.4,400.9 1323.0,400.9 1326.6,400.9 1330.2,400.9 1333.8,400.9 1337.4,400.9 1341.0,400.9 1344.6,400.9 1348.2,400.9 1351.8,400.9 1355.4,400.9 1359.0,400.9 1362.6,400.9 1366.2,400.9 1369.8,400.9 1373.4,400.9 1377.0,400.9 1380.6,400.9 1384.2,400.9 1387.7,400.9 1391.3,400.9 1394.9,400.9 1398.5,400.9 1402.1,400.9 1405.7,400.9 1409.3,400.9 1412.9,400.9 1416.5,400.9 1420.1,400.9 1423.7,400.9 1427.3,400.9" fill="none" stroke="#5b9bd5" stroke-width="2.0" stroke-linejoin="round" stroke-linecap="round"/>
<line x1="528.4" y1="514.5" x2="553.5" y2="514.5" stroke="#4472c4" stroke-width="3.0" stroke-linecap="round"/>
<text x="556.8" y="519.7" font-size="16.2" class="b" fill="#000" stroke="#000" stroke-width="0.3" textLength="40.3" lengthAdjust="spacingAndGlyphs">CAPP</text>
<line x1="612.3" y1="514.5" x2="638.8" y2="514.5" stroke="#ed7d31" stroke-width="3.0" stroke-linecap="round"/>
<text x="642.0" y="519.7" font-size="16.2" class="b" fill="#000" stroke="#000" stroke-width="0.3" textLength="42.9" lengthAdjust="spacingAndGlyphs">NAPP</text>
<line x1="699.5" y1="514.5" x2="726.0" y2="514.5" stroke="#a5a5a5" stroke-width="3.0" stroke-linecap="round"/>
<text x="729.1999999999999" y="519.7" font-size="16.2" class="b" fill="#000" stroke="#000" stroke-width="0.3" textLength="22.4" lengthAdjust="spacingAndGlyphs">ILB</text>
<line x1="766.1" y1="514.5" x2="793.0" y2="514.5" stroke="#ffc000" stroke-width="3.0" stroke-linecap="round"/>
<text x="796.4" y="519.7" font-size="16.2" class="b" fill="#000" stroke="#000" stroke-width="0.3" textLength="29.0" lengthAdjust="spacingAndGlyphs">PRB</text>
<line x1="841.4" y1="514.5" x2="867.1" y2="514.5" stroke="#5b9bd5" stroke-width="2.1" stroke-linecap="round"/>
<text x="871.1" y="519.7" font-size="16.2" class="b" fill="#000" stroke="#000" stroke-width="0.3" textLength="49.2" lengthAdjust="spacingAndGlyphs">WBIT*</text>
</svg></body></html>
